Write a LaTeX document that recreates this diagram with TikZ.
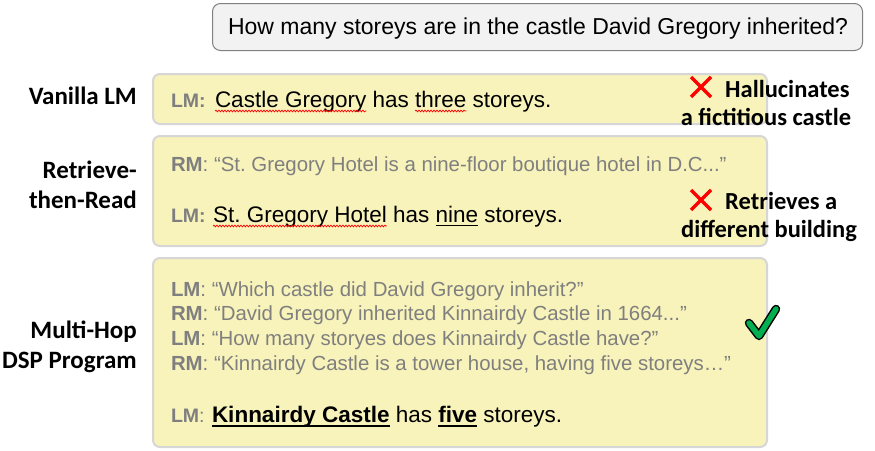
\documentclass[tikz,border=0pt]{standalone}
\usepackage{fontspec}
\setmainfont{Liberation Sans}
\newfontfamily\labfont{Carlito}
\usetikzlibrary{decorations.pathmorphing}
\definecolor{boxfill}{HTML}{F8F3BA}
\definecolor{boxline}{HTML}{D6D6D6}
\definecolor{txtgray}{HTML}{7F7F7F}
\definecolor{qfill}{HTML}{F2F2F2}
\definecolor{qline}{HTML}{808080}
\definecolor{checkgreen}{HTML}{00B050}
\frenchspacing
\begin{document}
\begin{tikzpicture}[x=1pt,y=1pt,
 panel/.style={draw=boxline, line width=2pt, fill=boxfill, rounded corners=7pt, inner sep=0pt, anchor=north west},
 qbox/.style={draw=qline, line width=1pt, fill=qfill, rounded corners=8pt, inner sep=0pt, anchor=north west},
 txt/.style={inner sep=0pt, outer sep=0pt, anchor=base west},
 ans/.style={txt, font=\fontsize{22.5}{27}\selectfont},
 ansb/.style={txt, font=\fontsize{22.5}{27}\selectfont\bfseries},
 ctx/.style={txt, text=txtgray, font=\fontsize{20.4}{24}\selectfont},
 role/.style={txt, text=txtgray, font=\fontsize{19.5}{22}\selectfont\bfseries},
 sysname/.style={inner sep=0pt, anchor=base east, font=\labfont\bfseries\fontsize{25}{30}\selectfont},
 note/.style={inner sep=0pt, font=\labfont\bfseries\fontsize{24.5}{29}\selectfont},
 squig/.style={draw=red, line width=0.7pt, decorate, decoration={snake, amplitude=0.9pt, segment length=3pt}},
 uline/.style={line width=1.5pt},
 ulineb/.style={line width=2pt},
 cross/.style={draw=red, line width=3.5pt},
]
\useasboundingbox (0,0) rectangle (875,-450);

% question
\node[qbox, minimum width=650pt, minimum height=47pt] (q) at (212,-3) {};
\node[inner sep=0pt, anchor=base, font=\fontsize{23}{27}\selectfont] (qt) at (538,-34)
  {How many storeys are in the castle David Gregory inherited?};

% panels
\node[panel, minimum width=614pt, minimum height=50pt] (p1) at (152,-73) {};
\node[panel, minimum width=614pt, minimum height=110pt] (p2) at (152,-135) {};
\node[panel, minimum width=614pt, minimum height=189pt] (p3) at (152,-257) {};

% system names
\node[sysname] (n1) at (137,-104) {Vanilla LM};
\node[sysname] (n2a) at (137,-178) {Retrieve-};
\node[sysname] (n2b) at (137,-208) {then-Read};
\node[sysname] (n3a) at (137,-338) {Multi-Hop};
\node[sysname] (n3b) at (137,-368) {DSP Program};

% panel 1
\node[role] (r1) at (171,-107) {LM:};
\node[ans] (a1a) at (215,-107) {Castle Gregory};
\node[ans] (a1b) at ([xshift=6.25pt]a1a.base east) {has};
\node[ans] (a1c) at ([xshift=6.25pt]a1b.base east) {three};
\node[ans] (a1d) at ([xshift=6.25pt]a1c.base east) {storeys.};
\draw[squig] ([yshift=-4pt]a1a.base west) -- ([yshift=-4pt]a1a.base east);
\draw[squig] ([yshift=-4pt]a1c.base west) -- ([yshift=-4pt]a1c.base east);

% panel 2
\node[ctx] (c2) at (171,-171) {\textbf{RM}: “St. Gregory Hotel is a nine-floor boutique hotel in D.C...”};
\node[role] (r2) at (171,-222) {LM:};
\node[ans] (a2a) at (213,-222) {St. Gregory Hotel};
\node[ans] (a2b) at ([xshift=6.25pt]a2a.base east) {has};
\node[ans] (a2c) at ([xshift=6.25pt]a2b.base east) {nine};
\node[ans] (a2d) at ([xshift=6.25pt]a2c.base east) {storeys.};
\draw[squig] ([yshift=-4pt]a2a.base west) -- ([yshift=-4pt]a2a.base east);
\draw[uline] ([yshift=-3.5pt]a2c.base west) -- ([yshift=-3.5pt]a2c.base east);

% panel 3
\node[ctx] (c3a) at (171,-296) {\textbf{LM}: “Which castle did David Gregory inherit?”};
\node[ctx] (c3b) at (171,-320) {\textbf{RM}: “David Gregory inherited Kinnairdy Castle in 1664...”};
\node[ctx] (c3c) at (171,-345) {\textbf{LM}: “How many storyes does Kinnairdy Castle have?”};
\node[ctx] (c3d) at (171,-370) {\textbf{RM}: “Kinnairdy Castle is a tower house, having five storeys…”};
\node[ctx, font=\fontsize{19.5}{22}\selectfont] (r3) at (171,-422) {\textbf{LM}:};
\node[ansb] (a3a) at (212,-422) {Kinnairdy Castle};
\node[ans] (a3b) at ([xshift=6.25pt]a3a.base east) {has};
\node[ansb] (a3c) at ([xshift=6.25pt]a3b.base east) {five};
\node[ans] (a3d) at ([xshift=6.25pt]a3c.base east) {storeys.};
\draw[ulineb] ([yshift=-3.5pt]a3a.base west) -- ([yshift=-3.5pt]a3a.base east);
\draw[ulineb] ([yshift=-3.5pt]a3c.base west) -- ([yshift=-3.5pt]a3c.base east);

% notes
\coordinate (x1) at (701,-87);
\draw[cross] ([shift={(-10pt,10pt)}]x1) -- ([shift={(10pt,-10pt)}]x1);
\draw[cross] ([shift={(-10pt,-10pt)}]x1) -- ([shift={(10pt,10pt)}]x1);
\node[note, anchor=base west] (h1) at (725,-97) {Hallucinates};
\node[note, anchor=base] (h2) at (766,-125) {a fictitious castle};

\coordinate (x2) at (701,-200);
\draw[cross] ([shift={(-10pt,10pt)}]x2) -- ([shift={(10pt,-10pt)}]x2);
\draw[cross] ([shift={(-10pt,-10pt)}]x2) -- ([shift={(10pt,10pt)}]x2);
\node[note, anchor=base west] (g1) at (725,-209) {Retrieves a};
\node[note, anchor=base] (g2) at (769,-237) {different building};

% check mark
\coordinate (k1) at (749,-323);
\coordinate (k2) at (759,-336);
\coordinate (k3) at (776,-309);
\draw[line width=8.5pt, line join=round, line cap=round] (k1) -- (k2) -- (k3);
\draw[checkgreen, line width=5.5pt, line join=round, line cap=round] (k1) -- (k2) -- (k3);
\end{tikzpicture}
\end{document}
